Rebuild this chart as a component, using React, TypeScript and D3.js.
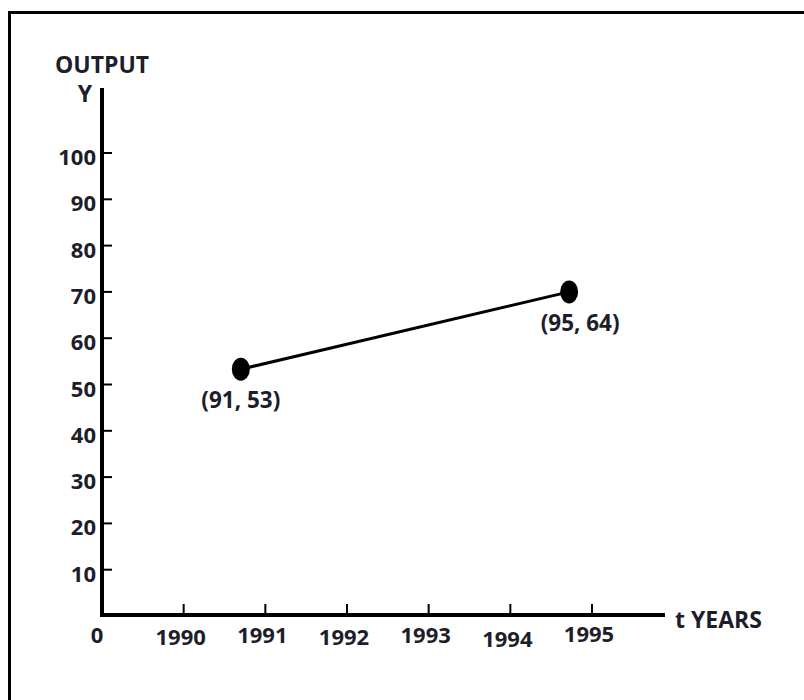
import * as d3 from "d3";
import React, { RefObject, useEffect, useRef } from "react";

// plotted points (positions) and their printed labels
const pointYears = [1990.7, 1994.72];
const pointOutput = [53.3, 70];
const pointLabels = ["(91, 53)", "(95, 64)"];
const labelNudge = [0, 11];

const yTicks = [10, 20, 30, 40, 50, 60, 70, 80, 90, 100];
const xTicks = [1990, 1991, 1992, 1993, 1994, 1995];
// the year labels sit a little unevenly under the axis
const xLabelDrop = [0, -2, 0, -2, 2, -3];

const FONT = "'Open Sans', sans-serif";
const INK = "#1e1e2a";

const App = () => {
  const d3Ref: RefObject<HTMLDivElement> = useRef(null);

  const drawChart = () => {
    const width = 804;
    const height = 700;
    d3.select(d3Ref.current).selectAll("*").remove();
    const svg = d3
      .select(d3Ref.current)
      .append("svg")
      .attr("width", width)
      .attr("height", height)
      .style("position", "absolute")
      .style("left", "0px")
      .style("top", "0px")
      .style("background", "#fff");

    // frame (right and bottom edges fall outside the picture)
    svg
      .append("rect")
      .attr("x", 9.5)
      .attr("y", 12.5)
      .attr("width", 900)
      .attr("height", 900)
      .attr("fill", "none")
      .attr("stroke", "#000")
      .attr("stroke-width", 3);

    const x = d3.scaleLinear().domain([1989, 1995]).range([102, 592]);
    const y = d3.scaleLinear().domain([0, 100]).range([616, 153]);

    const g = svg.append("g");

    // axes
    g.append("line")
      .attr("x1", x(1989))
      .attr("x2", x(1989))
      .attr("y1", 88)
      .attr("y2", y(0) + 1)
      .attr("stroke", "#000")
      .attr("stroke-width", 4);
    g.append("line")
      .attr("x1", x(1989) - 2)
      .attr("x2", 665)
      .attr("y1", y(0) - 1)
      .attr("y2", y(0) - 1)
      .attr("stroke", "#000")
      .attr("stroke-width", 4);

    // y ticks
    g.selectAll("line.ytick")
      .data(yTicks)
      .enter()
      .append("line")
      .attr("class", "ytick")
      .attr("x1", x(1989) + 2)
      .attr("x2", x(1989) + 10)
      .attr("y1", (d) => y(d))
      .attr("y2", (d) => y(d))
      .attr("stroke", "#000")
      .attr("stroke-width", 2);
    g.selectAll("text.ylab")
      .data(yTicks)
      .enter()
      .append("text")
      .attr("class", "ylab")
      .attr("x", x(1989) - 6)
      .attr("y", (d) => y(d) + 12)
      .attr("text-anchor", "end")
      .attr("font-family", FONT)
      .attr("font-weight", 700)
      .attr("font-size", 22)
      .attr("fill", INK)
      .text((d) => d);

    // x ticks
    g.selectAll("line.xtick")
      .data(xTicks)
      .enter()
      .append("line")
      .attr("class", "xtick")
      .attr("x1", (d) => x(d))
      .attr("x2", (d) => x(d))
      .attr("y1", y(0) - 12)
      .attr("y2", y(0) - 2)
      .attr("stroke", "#000")
      .attr("stroke-width", 2);
    g.selectAll("text.xlab")
      .data(xTicks)
      .enter()
      .append("text")
      .attr("class", "xlab")
      .attr("x", (d) => x(d) - 3)
      .attr("y", (d, i) => y(0) + 29 + xLabelDrop[i])
      .attr("text-anchor", "middle")
      .attr("font-family", FONT)
      .attr("font-weight", 700)
      .attr("font-size", 22)
      .attr("fill", INK)
      .text((d) => d);

    const label = (txt: string, lx: number, ly: number, anchor: string, size: number) =>
      g
        .append("text")
        .attr("x", lx)
        .attr("y", ly)
        .attr("text-anchor", anchor)
        .attr("font-family", FONT)
        .attr("font-weight", 700)
        .attr("font-size", size)
        .attr("fill", INK)
        .text(txt);

    label("0", x(1989) - 5, y(0) + 27, "middle", 22);
    label("OUTPUT", 55, 73, "start", 23);
    label("Y", 85, 102, "middle", 23);
    label("t YEARS", 675, 628, "start", 23);

    // the line and its two points
    const pts = pointYears.map((yr, i) => [yr, pointOutput[i]] as [number, number]);
    const line = d3
      .line<[number, number]>()
      .x((d) => x(d[0]))
      .y((d) => y(d[1]));
    g.append("path")
      .attr("d", line(pts) as string)
      .attr("fill", "none")
      .attr("stroke", "#000")
      .attr("stroke-width", 3);

    g.selectAll("ellipse.pt")
      .data(pts)
      .enter()
      .append("ellipse")
      .attr("class", "pt")
      .attr("cx", (d) => x(d[0]))
      .attr("cy", (d) => y(d[1]))
      .attr("rx", 9)
      .attr("ry", 11.5)
      .attr("fill", "#000");

    g.selectAll("text.ptlab")
      .data(pts)
      .enter()
      .append("text")
      .attr("class", "ptlab")
      .attr("x", (d, i) => x(d[0]) + labelNudge[i])
      .attr("y", (d) => y(d[1]) + 39)
      .attr("text-anchor", "middle")
      .attr("font-family", FONT)
      .attr("font-weight", 700)
      .attr("font-size", 22.5)
      .attr("fill", INK)
      .text((d, i) => pointLabels[i]);
  };

  useEffect(() => {
    drawChart();
  }, [d3Ref]);

  return (
    <>
      <div ref={d3Ref} />
    </>
  );
};

export default App;
